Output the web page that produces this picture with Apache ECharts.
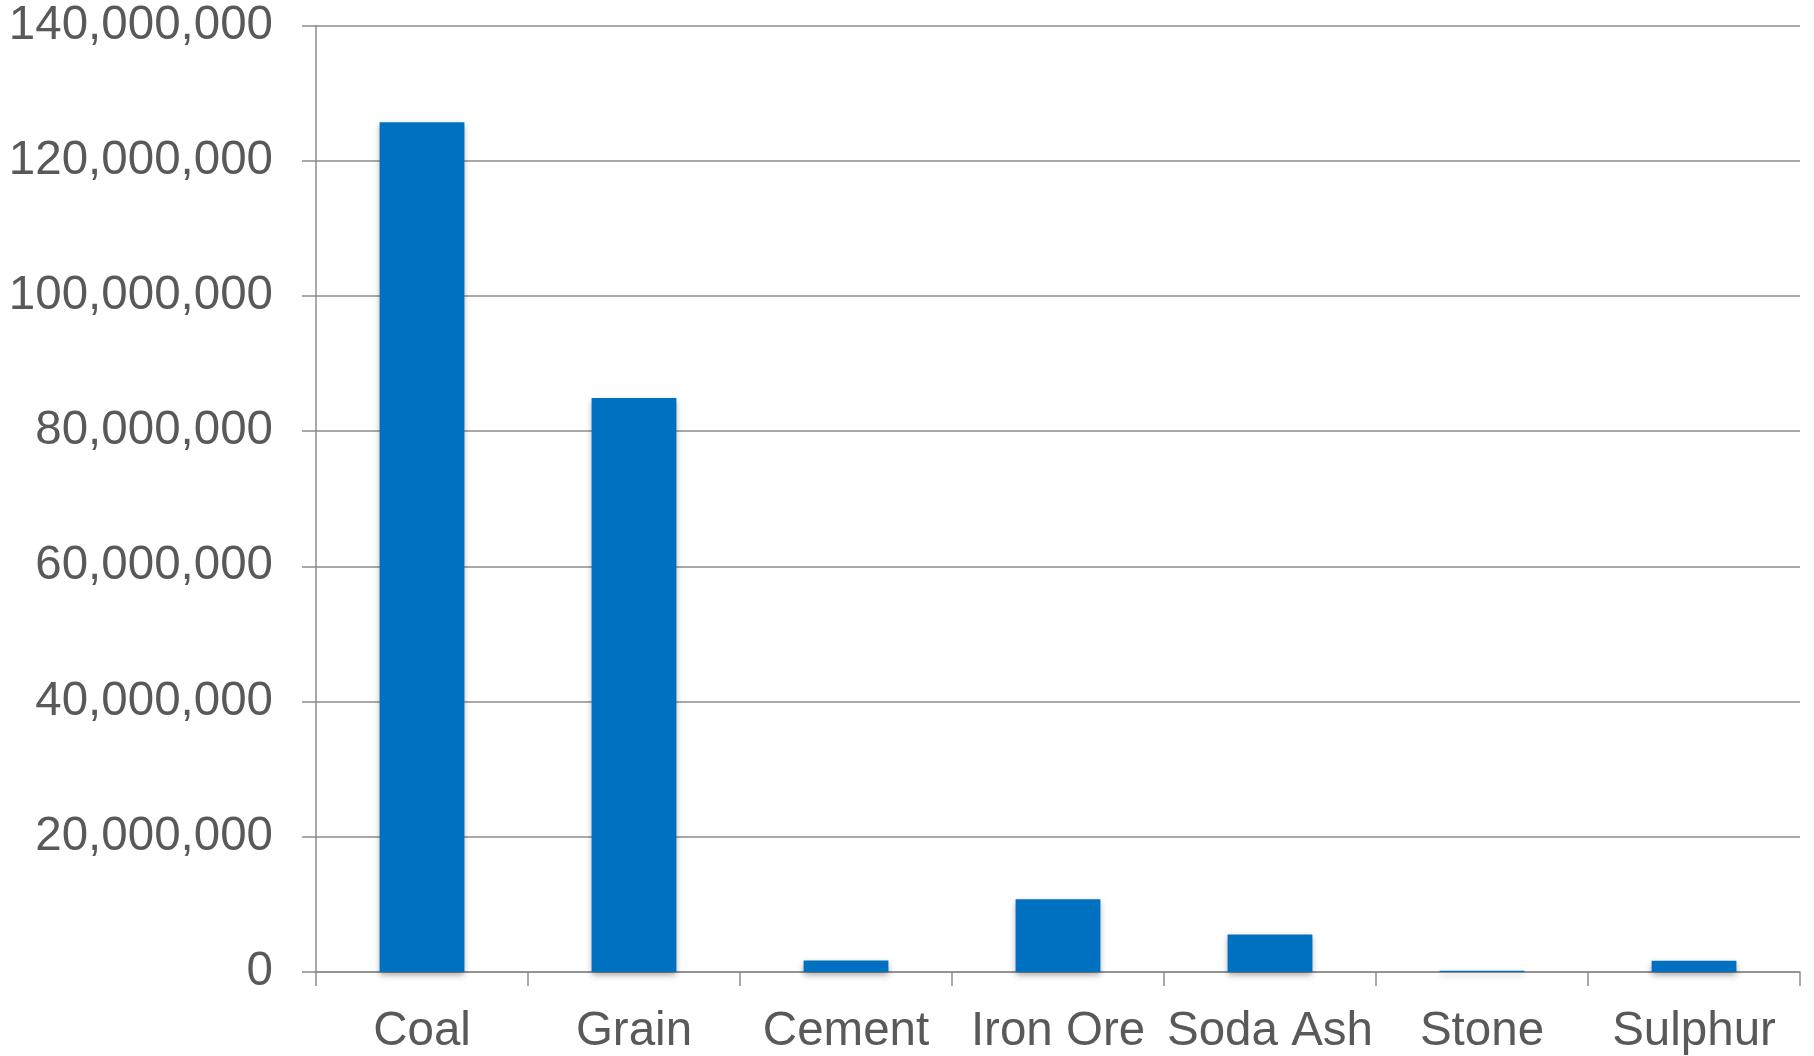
<!DOCTYPE html>
<html>
<head>
<meta charset="utf-8">
<script src="https://cdn.jsdelivr.net/npm/echarts@6/dist/echarts.min.js"></script>
<style>
  html, body { margin: 0; padding: 0; background: #fff; }
  #chart { width: 1814px; height: 1056px; }
</style>
</head>
<body>
<div id="chart"></div>
<script>
// Cargo categories and tonnage
const categories = ['Coal', 'Grain', 'Cement', 'Iron Ore', 'Soda Ash', 'Stone', 'Sulphur'];
const tonnage = [125700000, 84900000, 1700000, 10750000, 5550000, 200000, 1650000];
const yTicks = { min: 0, max: 140000000, step: 20000000 };

const textColor = '#595959';
const lineColor = '#8c8c8c';

const chartDom = document.getElementById('chart');
const myChart = echarts.init(chartDom);

const option = {
    animation: false,
    grid: {
        left: 316,
        right: 14,
        top: 25.5,
        bottom: 83
    },
    xAxis: {
        type: 'category',
        data: categories,
        axisLine: { show: true, lineStyle: { color: lineColor, width: 1.5 } },
        axisTick: { show: true, length: 14, alignWithLabel: false, lineStyle: { color: lineColor, width: 1.5 } },
        axisLabel: {
            color: textColor,
            fontFamily: 'Liberation Sans',
            fontSize: 47.5,
            margin: 36,
            interval: 0
        }
    },
    yAxis: {
        type: 'value',
        min: yTicks.min,
        max: yTicks.max,
        interval: yTicks.step,
        axisLine: { show: true, lineStyle: { color: lineColor, width: 1.5 } },
        axisTick: { show: true, length: 14, lineStyle: { color: lineColor, width: 1.5 } },
        splitLine: { show: true, lineStyle: { color: lineColor, width: 1.5 } },
        axisLabel: {
            color: textColor,
            fontFamily: 'Liberation Sans',
            fontSize: 47.5,
            margin: 43,
            formatter: function (v) {
                return v.toLocaleString('en-US');
            }
        }
    },
    series: [
        {
            type: 'bar',
            data: tonnage,
            barWidth: '40%',
            itemStyle: {
                color: '#0070C0',
                shadowBlur: 6,
                shadowOffsetY: 3,
                shadowColor: 'rgba(0, 0, 0, 0.35)'
            }
        }
    ]
};

myChart.setOption(option);
</script>
</body>
</html>
